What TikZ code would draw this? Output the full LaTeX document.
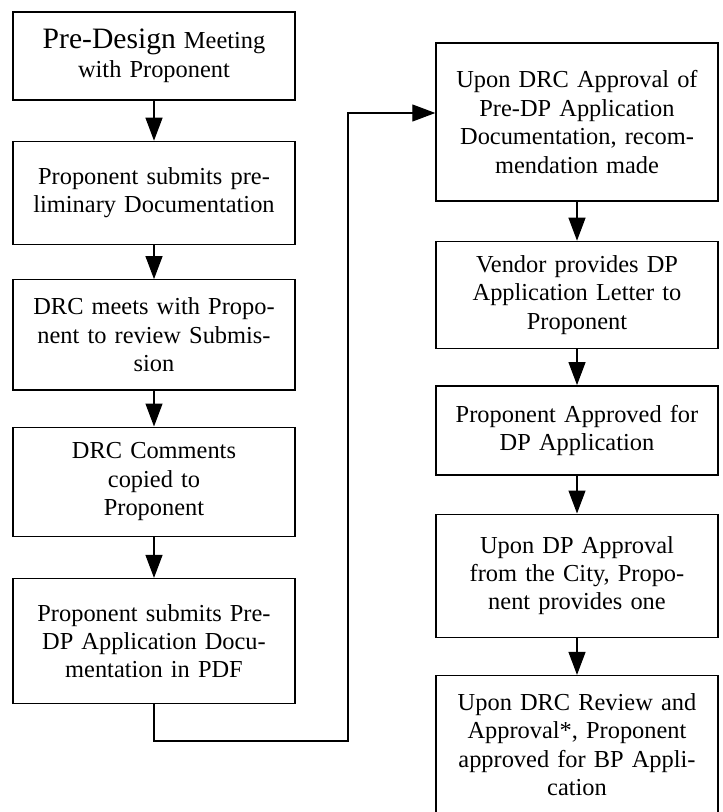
\documentclass[tikz,border=0pt]{standalone}
\usepackage{fontspec}
\setmainfont{Liberation Serif}
\usepackage{tikz}
\usetikzlibrary{positioning, arrows.meta}

\begin{document}
\begin{tikzpicture}[
            stepbox/.style={draw, line width=0.7pt, text width=131pt, inner xsep=5pt, inner ysep=2pt, align=center, font=\fontsize{12.2}{14.2}\selectfont},
            arrow/.style={-{Triangle[length=11.5pt, width=8.5pt]}, line width=0.6pt}
        ]
            \useasboundingbox (0,0) rectangle (361pt,-406pt);

            \node[stepbox, minimum height=44pt] (meet) at (77pt,-28pt) {{\fontsize{14.8}{14.2}\selectfont Pre-Design} Meeting\\ with Proponent};
            \node[stepbox, minimum height=51.5pt, below=20pt of meet] (prelim) {Proponent submits pre-\\liminary Documentation\\[-5pt]};
            \node[stepbox, minimum height=55pt, below=17pt of prelim] (review) {DRC meets with Propo-\\nent to review Submis-\\sion};
            \node[stepbox, minimum height=54.5pt, below=18pt of review] (comments) {DRC Comments\\ copied to\\ Proponent};
            \node[stepbox, minimum height=62.5pt, below=20.5pt of comments] (predp) {Proponent submits Pre-\\DP Application Docu-\\mentation in PDF\\[-4pt]};

            \node[stepbox, minimum height=79pt] (recommend) at (288.5pt,-61pt) {Upon DRC Approval of\\ Pre-DP Application\\ Documentation, recom-\\mendation made\\[-2pt]};
            \node[stepbox, minimum height=53.5pt, below=19.5pt of recommend] (letter) {Vendor provides DP\\ Application Letter to\\ Proponent};
            \node[stepbox, minimum height=44.5pt, below=18pt of letter] (approved) {Proponent Approved for\\ DP Application};
            \node[stepbox, minimum height=61.5pt, below=19pt of approved] (city) {Upon DP Approval\\ from the City, Propo-\\nent provides one};
            \node[stepbox, minimum height=69pt, below=18.5pt of city] (bp) {Upon DRC Review and\\ Approval*, Proponent\\ approved for BP Appli-\\cation};

            \coordinate (turn) at (174pt,-370.5pt);

            \draw[arrow] (meet) -- (prelim);
            \draw[arrow] (prelim) -- (review);
            \draw[arrow] (review) -- (comments);
            \draw[arrow] (comments) -- (predp);

            \draw[arrow] (predp.south) |- (turn) |- ([yshift=4.5pt]recommend.west);

            \draw[arrow] (recommend) -- (letter);
            \draw[arrow] (letter) -- (approved);
            \draw[arrow] (approved) -- (city);
            \draw[arrow] (city) -- (bp);

        \end{tikzpicture}
\end{document}
